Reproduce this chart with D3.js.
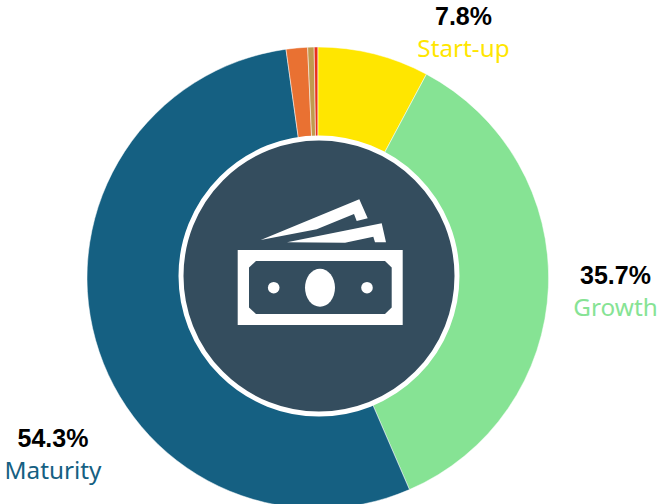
<!DOCTYPE html>
<html>
<head>
<meta charset="utf-8">
<script src="https://cdn.jsdelivr.net/npm/d3@7"></script>
<style>
html,body{margin:0;padding:0;background:#fff;overflow:hidden}
svg{display:block}
text{font-family:"Noto Sans","Open Sans",sans-serif}
text.share{font-family:"Liberation Sans",Arial,sans-serif}
</style>
</head>
<body>
<svg id="chart" width="659" height="504"></svg>
<script>
// Revenue share by business lifecycle stage, clockwise from twelve o'clock
const stages = ["Start-up", "Growth", "Maturity", "Decline", "Shake-out", "Other"];
const shares = [7.8, 35.7, 54.3, 1.5, 0.45, 0.25];
const colours = ["#FFE600", "#86E394", "#156082", "#E97132", "#C09A4E", "#E8301C"];

const labelled = [
  {stage: "Start-up", share: "7.8%", x: 463.5, y: 25, colour: "#FFE600"},
  {stage: "Growth", share: "35.7%", x: 615.5, y: 284, colour: "#86E394"},
  {stage: "Maturity", share: "54.3%", x: 53, y: 447, colour: "#156082"}
];

const cx = 317.8, cy = 277.8, outer = 230.8;
const svg = d3.select("#chart");

const pie = d3.pie().value(d => d).sort(null)(shares);
const arc = d3.arc().innerRadius(130).outerRadius(outer);

svg.append("g").attr("transform", `translate(${cx},${cy})`)
  .selectAll("path").data(pie).join("path")
  .attr("d", arc)
  .attr("fill", (d, i) => colours[i])
  .attr("stroke", "#fff").attr("stroke-width", 0.5);

// Centre disc with a white ring
svg.append("circle").attr("cx", 319).attr("cy", 276).attr("r", 138)
  .attr("fill", "#344D5E").attr("stroke", "#fff").attr("stroke-width", 5);

// Banknote icon
const icon = svg.append("g");
icon.append("rect").attr("x", 237.7).attr("y", 250).attr("width", 165).attr("height", 75).attr("fill", "#fff");
icon.append("path").attr("fill", "#344D5E")
  .attr("d", "M256,261H385L391.7,267.5V307.5L385,314H256L249,307.5V267.5Z");
icon.append("ellipse").attr("cx", 320).attr("cy", 287.7).attr("rx", 15).attr("ry", 19).attr("fill", "#fff");
icon.append("circle").attr("cx", 273.7).attr("cy", 287.7).attr("r", 5.8).attr("fill", "#fff");
icon.append("circle").attr("cx", 367).attr("cy", 287.7).attr("r", 5.8).attr("fill", "#fff");
icon.append("path").attr("fill", "#fff")
  .attr("d", "M260.7,240L359.3,199.3L367.7,218.3L356.7,221L354,214L316.7,229.3Z");
icon.append("path").attr("fill", "#fff")
  .attr("d", "M287,242.3L381.7,223.3L386,242.3L375,242.3L373.3,236.7L345,242.7Z");

// Stage labels
const lab = svg.append("g").attr("text-anchor", "middle");
lab.selectAll("text.share").data(labelled).join("text").attr("class", "share")
  .attr("x", d => d.x).attr("y", d => d.y)
  .attr("font-size", 25).attr("font-weight", 700).attr("fill", "#000")
  .text(d => d.share);
lab.selectAll("text.stage").data(labelled).join("text").attr("class", "stage")
  .attr("x", d => d.x).attr("y", d => d.y + 32)
  .attr("font-size", 24.3).attr("fill", d => d.colour)
  .text(d => d.stage);
</script>
</body>
</html>
